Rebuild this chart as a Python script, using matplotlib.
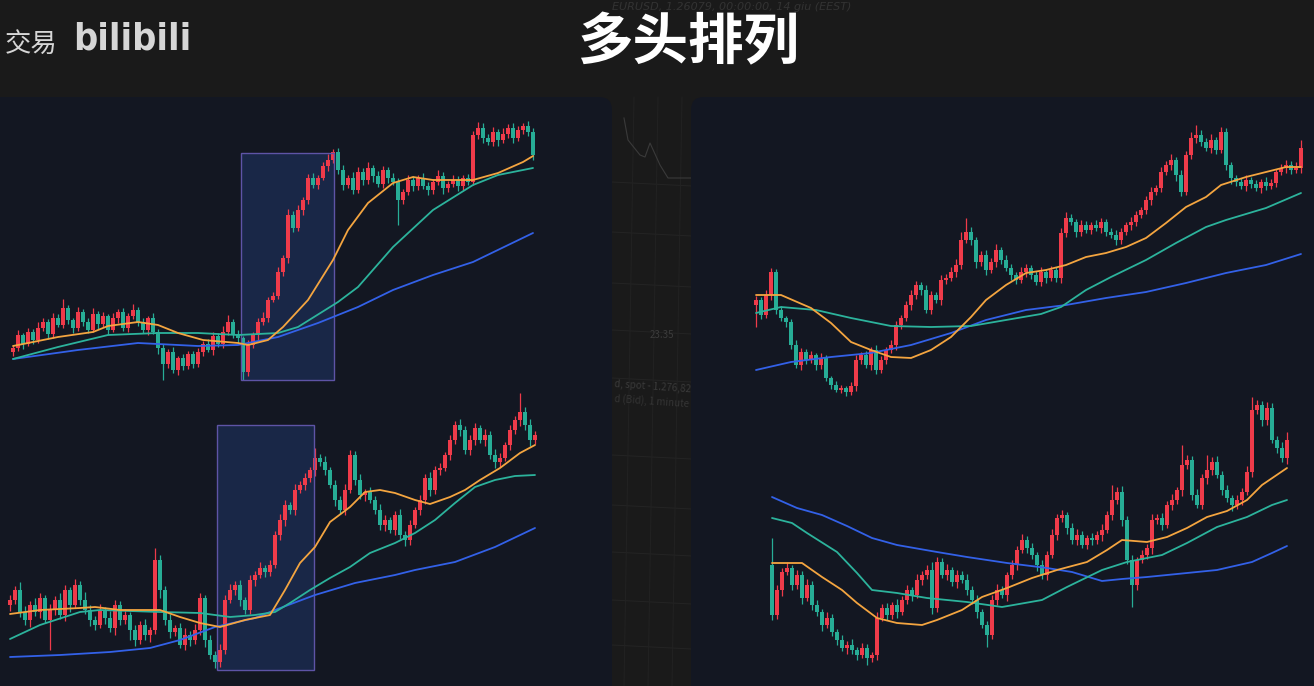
import matplotlib.pyplot as plt
from matplotlib.patches import FancyBboxPatch, Rectangle

plt.rcParams['font.family'] = ['Noto Sans CJK SC', 'DejaVu Sans']

W, H = 1314, 686
SLOT = 5  # pixels per candle

# ---- chart 1 (top left) ----
c1_open0 = 348
c1_close = [352, 365, 356, 368, 360, 372,
            378, 366, 382, 375, 392, 380,
            372, 388, 378, 370, 386, 376,
            384, 370, 382, 388, 372, 384, 390,
            378, 370, 382, 368, 352,
            336, 348, 330, 342, 334, 346, 336,
            348, 356, 350, 364, 356, 368,
            378, 366, 362, 328,
            355, 365, 378, 382, 400, 404,
            428, 442, 485,
            472, 490, 500, 522,
            515, 522, 534, 540, 548,
            530, 515, 522, 510,
            528, 520, 532, 524, 516, 530, 522, 518,
            500, 508, 520, 514,
            522, 514, 510, 518, 524, 512, 516, 520, 514, 522, 518,
            565,
            572, 562, 558, 568, 560, 566, 572, 562, 570, 574, 568, 545]
c1_up = [3, 5, 2, 4, 3, 6, 4, 3, 5, 4, 9, 3, 2, 5, 3, 4, 6, 3, 4, 2, 5, 3, 4, 3, 6,
         3, 4, 2, 5, 3, 4, 3, 5, 2, 4, 3, 3, 4, 3, 5, 4, 3, 6, 7, 3, 4, 2,
         5, 3, 4, 6, 3, 4, 5, 3, 6, 4, 5, 3, 4, 5, 3, 4, 6, 3, 4, 5, 3, 6,
         5, 4, 6, 3, 5, 4, 3, 5, 4, 3, 5, 4, 3, 5, 4, 3, 6, 4, 3, 5, 4, 3, 4,
         4, 6, 5, 4, 5, 3, 6, 4, 5, 4, 3, 5, 4]
c1_dn = [4, 3, 5, 2, 4, 3, 3, 5, 4, 2, 3, 4, 5, 3, 4, 3, 2, 5, 3, 4, 2, 5, 3, 4, 3,
         4, 3, 5, 2, 6, 16, 4, 3, 5, 4, 3, 4, 3, 4, 2, 5, 3, 4, 3, 4, 5, 8,
         4, 3, 5, 3, 4, 2, 3, 4, 5, 4, 3, 5, 4, 3, 4, 2, 5, 3, 4, 5, 3, 4,
         3, 5, 4, 6, 3, 4, 5, 3, 25, 4, 3, 5, 4, 3, 5, 4, 3, 6, 4, 3, 5, 4, 3,
         3, 4, 5, 3, 4, 6, 3, 4, 5, 3, 4, 4, 5]
c1_fast_x = [0, 9, 16, 19, 25, 29, 33, 38, 45, 47, 51, 54, 59, 64, 67, 71, 76, 80, 84, 92, 97, 102, 104]
c1_fast = [354, 363, 368, 374, 378, 375, 367, 360, 357, 355, 360, 373, 400, 440, 470, 497, 517, 523, 520, 520, 527, 538, 544]
c1_mid_x = [0, 9, 19, 29, 37, 45, 53, 57, 65, 69, 76, 84, 92, 97, 104]
c1_mid = [341, 353, 365, 367, 367, 365, 367, 373, 398, 413, 453, 490, 515, 525, 532]
c1_slow_x = [0, 13, 25, 37, 45, 53, 61, 69, 76, 84, 92, 104]
c1_slow = [341, 350, 357, 354, 355, 363, 377, 393, 410, 425, 438, 467]
c1_box = (45.6, 64.2, 320, 547)

# ---- chart 2 (bottom left) ----
c2_open0 = 95
c2_close = [100, 110, 88,
            80, 95, 88, 102, 80, 90,
            100, 85, 110, 95, 115, 100, 90, 80,
            75, 90, 82, 72, 95, 80, 85, 70,
            60, 75, 65, 70,
            140, 110,
            80, 68, 72, 55, 65,
            60, 70, 102, 60,
            45, 38, 50,
            100,
            110, 115, 100, 90,
            120, 125, 132, 128, 135,
            165, 180,
            195, 190, 210,
            215, 222, 230, 242,
            238, 230, 215,
            200, 190, 210,
            245,
            220, 205, 208, 200,
            190, 175, 180, 170, 185,
            165, 160, 175,
            190, 200, 222,
            210, 230, 232,
            245, 260, 275,
            270, 250, 260,
            272, 260, 265,
            245, 238, 242, 255,
            270, 280, 288,
            275, 260, 265]
c2_up = [5, 4, 8, 6, 4, 7, 5, 3, 6, 4, 7, 5, 3, 6, 4, 8, 5, 4, 6, 3, 7, 5, 4, 6, 3,
         5, 4, 6, 3, 12, 5, 4, 6, 3, 5, 7, 4, 6, 5, 3, 5, 4, 6, 5, 6, 4, 5, 3,
         5, 4, 6, 3, 5, 4, 6, 5, 3, 6, 4, 5, 3, 10, 4, 6, 3, 5, 4, 6, 5,
         4, 6, 3, 5, 4, 6, 5, 3, 4, 6, 4, 5, 3, 5, 4, 6, 4, 5, 3, 5, 4, 6, 4, 5,
         5, 3, 6, 4, 6, 5, 3, 5, 4, 19, 5, 6, 4]
c2_dn = [6, 4, 5, 5, 7, 4, 6, 3, 30, 5, 4, 6, 7, 3, 5, 4, 6, 5, 3, 6, 4, 7, 5, 4, 10,
         6, 4, 5, 7, 4, 8, 5, 6, 4, 3, 5, 6, 4, 5, 7, 4, 6, 5, 4, 3, 5, 6, 4,
         4, 6, 3, 5, 4, 3, 5, 6, 4, 5, 3, 5, 4, 6, 4, 5, 3, 6, 4, 5, 3,
         5, 4, 6, 3, 4, 5, 6, 3, 5, 4, 6, 5, 3, 5, 4, 6, 4, 5, 3, 5, 4, 6, 4, 5,
         5, 3, 6, 4, 6, 5, 3, 5, 4, 6, 5, 6, 4]
c2_fast_x = [0, 6, 14, 17, 22, 30, 34, 38, 42, 47, 52, 55, 58, 61, 64, 68, 71, 74, 77, 81, 84, 88, 91, 94, 98, 102, 105]
c2_fast = [86, 90, 92, 93, 90, 90, 83, 77, 73, 80, 85, 110, 137, 153, 178, 193, 208, 210, 207, 200, 196, 203, 210, 220, 232, 247, 255]
c2_mid_x = [0, 6, 14, 18, 30, 38, 44, 49, 53, 56, 60, 64, 68, 72, 77, 81, 85, 89, 93, 97, 101, 105]
c2_mid = [61, 75, 88, 90, 88, 87, 83, 85, 88, 97, 110, 122, 133, 147, 157, 167, 180, 197, 213, 220, 224, 225]
c2_slow_x = [0, 10, 20, 28, 34, 41, 49, 53, 61, 69, 77, 81, 89, 97, 105]
c2_slow = [43, 45, 48, 52, 60, 73, 82, 90, 105, 117, 125, 130, 138, 153, 172]
c2_box = (41.4, 60.8, 30, 275)

# ---- chart 3 (top right) ----
c3_open0 = 395
c3_close = [400, 385, 405, 428,
            390,
            382, 378,
            355, 335, 348,
            340, 345, 335, 342,
            322, 315, 310, 312, 308, 314,
            340, 345,
            335, 350, 330, 340,
            350, 355, 375,
            382, 395, 405,
            415, 410, 390,
            405, 400, 420,
            422, 428, 435,
            460, 468, 460,
            438, 445, 430,
            438, 450, 440, 432,
            425, 420, 428, 432, 425, 418,
            428, 422, 430, 422,
            467, 482,
            478, 468, 475, 470,
            475, 472, 478, 468, 465, 460,
            468, 475, 478, 485, 490,
            500, 508, 512,
            528, 535, 540,
            525, 508,
            545, 562, 565,
            558, 552, 560, 550, 568,
            535, 522,
            518, 514, 520, 516, 512, 518, 514, 517,
            528, 532, 535,
            530, 532, 552]
c3_up = [4, 3, 5, 4, 3, 4, 2, 3, 5, 4, 3, 4, 2, 5, 3, 2, 4, 3, 2, 4, 5, 3,
         4, 3, 5, 4, 3, 5, 4, 3, 4, 5, 4, 3, 5, 4, 3, 5, 4, 5, 6, 8, 14, 5,
         3, 4, 5, 4, 6, 3, 5, 4, 3, 5, 4, 3, 4, 5, 3, 4, 3, 5, 6, 4, 3, 5, 4,
         3, 5, 4, 3, 4, 5, 4, 3, 5, 4, 3, 4, 5, 3, 5, 4, 6, 3, 5, 4, 6, 10,
         5, 4, 6, 3, 5, 4, 3, 3, 4, 5, 3, 4, 3, 5, 4, 3, 4, 5, 4, 6, 8]
c3_dn = [22, 4, 3, 5, 4, 3, 5, 4, 3, 5, 4, 3, 5, 4, 3, 4, 2, 3, 4, 3, 5, 4,
         3, 5, 4, 3, 4, 3, 5, 4, 3, 5, 4, 5, 3, 4, 3, 5, 4, 3, 5, 4, 3, 5,
         6, 4, 5, 3, 5, 4, 3, 5, 4, 3, 5, 4, 3, 4, 5, 3, 4, 5, 4, 3, 5, 4, 3,
         4, 3, 5, 4, 3, 5, 4, 3, 5, 4, 3, 4, 5, 3, 4, 3, 5, 6, 4, 3, 4, 5,
         4, 3, 5, 4, 3, 5, 6, 4, 3, 5, 4, 3, 5, 4, 3, 4, 3, 5, 4, 3, 5]
c3_fast_x = [0, 5, 11, 15, 19, 23, 27, 31, 35, 39, 43, 46, 50, 54, 58, 62, 66, 70, 74, 78, 82, 86, 90, 93, 98, 102, 106, 109]
c3_fast = [405, 405, 392, 377, 358, 350, 343, 342, 350, 363, 383, 400, 415, 427, 430, 435, 443, 447, 453, 462, 477, 493, 503, 515, 523, 528, 533, 533]
c3_mid_x = [0, 5, 12, 19, 27, 35, 43, 50, 57, 61, 66, 71, 78, 84, 90, 94, 102, 109]
c3_mid = [387, 393, 390, 382, 374, 373, 374, 380, 386, 393, 410, 423, 440, 457, 473, 480, 492, 507]
c3_slow_x = [0, 7, 15, 23, 31, 39, 46, 54, 62, 70, 78, 86, 94, 102, 109]
c3_slow = [330, 338, 343, 347, 355, 367, 380, 390, 395, 402, 408, 417, 427, 435, 446]

# ---- chart 4 (bottom right) ----
c4_open0 = 135
c4_close = [85,
            110, 128, 132,
            115, 125, 102, 115,
            95, 88, 75, 82,
            68, 60, 52, 55, 50,
            45, 52, 42, 45,
            82,
            92, 85, 95, 88, 100,
            110, 105, 120, 125, 130,
            92, 138,
            125, 130, 118, 125, 120,
            110, 100, 88, 75, 65,
            100, 110, 105,
            125, 135, 150,
            160, 152, 145,
            135, 125, 145,
            165, 182, 185,
            172, 160, 165, 155, 162,
            160, 165, 170,
            185, 200, 208,
            180, 140, 115,
            140, 145, 152,
            180, 182, 175,
            195, 200, 210,
            235, 240, 205, 195,
            222, 230, 238,
            225, 210, 202,
            195, 200, 208,
            228, 290,
            295, 280, 292,
            260, 252, 242,
            260]
c4_up = [27, 5, 4, 6, 3, 5, 4, 6, 4, 5, 3, 6, 4, 3, 5, 4, 6, 3, 5, 4, 3, 6,
         4, 5, 3, 6, 4, 5, 3, 6, 4, 5, 8, 5, 4, 6, 3, 5, 4, 6, 4, 5, 3, 4,
         5, 6, 4, 3, 5, 4, 6, 4, 5, 3, 5, 4, 6, 4, 5, 3, 5, 6, 4, 3, 5, 4, 6,
         4, 15, 5, 6, 4, 5, 3, 5, 4, 6, 4, 5, 4, 6, 3, 20, 5, 4, 6, 4, 15, 5,
         6, 4, 5, 3, 5, 4, 6, 13, 5, 4, 6, 5, 4, 6, 8]
c4_dn = [5, 4, 6, 3, 5, 4, 6, 3, 5, 4, 6, 3, 4, 5, 3, 6, 4, 5, 3, 7, 4, 5,
         3, 5, 4, 6, 3, 4, 6, 3, 5, 4, 6, 4, 3, 5, 4, 6, 3, 5, 4, 6, 3, 12,
         4, 5, 3, 6, 4, 5, 3, 5, 4, 6, 4, 5, 3, 5, 4, 6, 4, 5, 3, 4, 5, 4, 6,
         3, 5, 4, 6, 4, 22, 5, 3, 4, 6, 4, 5, 3, 5, 4, 6, 4, 5, 3, 4, 6, 5,
         3, 5, 4, 6, 4, 5, 3, 5, 4, 6, 5, 3, 5, 4, 6]
c4_fast_x = [0, 6, 10, 14, 17, 21, 25, 30, 33, 38, 42, 47, 52, 57, 63, 67, 70, 75, 79, 83, 87, 91, 95, 98, 103]
c4_fast = [137, 137, 123, 110, 97, 82, 77, 75, 80, 90, 103, 112, 122, 130, 138, 150, 160, 158, 163, 172, 183, 189, 200, 215, 232]
c4_mid_x = [0, 4, 7, 13, 17, 20, 25, 31, 39, 46, 54, 59, 66, 71, 78, 83, 89, 95, 100, 103]
c4_mid = [182, 177, 167, 148, 127, 110, 107, 102, 98, 93, 100, 113, 130, 138, 145, 157, 173, 183, 195, 200]
c4_slow_x = [0, 5, 10, 15, 20, 25, 33, 39, 47, 55, 60, 66, 70, 75, 83, 89, 96, 100, 103]
c4_slow = [203, 192, 185, 174, 162, 155, 148, 143, 137, 132, 128, 119, 121, 123, 127, 130, 138, 147, 154]

UP = '#ef3b4a'
DOWN = '#27ad96'
FAST = '#f4a540'
MID = '#2cb39c'
SLOW = '#3361e8'
PANEL = '#131722'

fig = plt.figure(figsize=(W / 100, H / 100), dpi=100, facecolor='#1a1a1a')

# background layer in pixel units: panels, faint video backdrop, captions
bg = fig.add_axes([0, 0, 1, 1])
bg.set_xlim(0, W)
bg.set_ylim(H, 0)
bg.axis('off')

for y in [182, 232, 283, 330, 378, 455, 505, 552, 600, 645]:
    bg.plot([612, 692], [y, y + 4], color='#242424', lw=0.7, zorder=0.5)
for x in [628, 652, 676]:
    bg.plot([x + 6, x - 4], [97, 686], color='#222222', lw=0.7, zorder=0.5)
bg.plot([624, 628, 640, 645, 650, 660, 668, 692], [118, 140, 155, 157, 143, 165, 178, 178],
        color='#3a3a3a', lw=0.8, zorder=0.6)
bg.text(662, 338, '23.35', color='#3c3c3c', fontsize=7, ha='center', zorder=0.6)
bg.text(614, 392, 'd, spot - 1.276,82', color='#3a3a3a', fontsize=7, rotation=-4, zorder=0.6)
bg.text(614, 407, 'd (Bid), 1 minute', color='#343434', fontsize=7, rotation=-4, zorder=0.6)
bg.text(612, 7, 'EURUSD, 1.26079, 00:00:00, 14 giu (EEST)', color='#333333', fontsize=8,
        style='italic', va='center', family='DejaVu Sans', zorder=0.6)

bg.add_patch(FancyBboxPatch((-40, 97), 652, 660, boxstyle='round,pad=0,rounding_size=13',
                            fc=PANEL, ec='none', zorder=1))
bg.add_patch(FancyBboxPatch((691, 97), 680, 660, boxstyle='round,pad=0,rounding_size=13',
                            fc=PANEL, ec='none', zorder=1))

bg.text(688, 43, '多头排列', ha='center', va='center', fontsize=40, fontweight='bold',
        color='white', zorder=3)
bg.text(5, 44, '交易', ha='left', va='center', fontsize=19, color='#d6d6d6', zorder=3)
bg.text(73, 40, 'bilibili', ha='left', va='center', fontsize=27, fontweight='bold',
        fontstretch='condensed', family='DejaVu Sans', color='#d6d6d6', zorder=3)


def draw_chart(x_first, price_lo, price_hi, open0, close, up, dn, mas, box=None):
    n = len(close)
    # price scale is set so one unit is one pixel; 700 - price is the image row
    ax = fig.add_axes([(x_first - SLOT / 2) / W, (price_lo - 14) / H,
                       n * SLOT / W, (price_hi - price_lo) / H])
    ax.set_xlim(-0.5, n - 0.5)
    ax.set_ylim(price_lo, price_hi)
    ax.axis('off')

    if box is not None:
        x0, x1, p0, p1 = box
        ax.add_patch(Rectangle((x0, p0), x1 - x0, p1 - p0, fc='#1f3566', alpha=0.55,
                               ec='none', zorder=1))
        ax.add_patch(Rectangle((x0, p0), x1 - x0, p1 - p0, fc='none', ec='#5e54a6',
                               lw=1.0, zorder=4))

    opens = [open0] + close[:-1]
    idx, lows, highs, bottoms, heights, colors = [], [], [], [], [], []
    for i, (o, c, u, d) in enumerate(zip(opens, close, up, dn)):
        idx.append(i)
        highs.append(max(o, c) + u)
        lows.append(min(o, c) - d)
        bottoms.append(min(o, c))
        heights.append(max(abs(c - o), 1.2))
        colors.append(UP if c >= o else DOWN)
    ax.vlines(idx, lows, highs, colors=colors, lw=0.9, zorder=2)
    ax.bar(idx, heights, bottom=bottoms, width=0.62, color=colors, lw=0, zorder=3)

    for xs, vals, col in mas:
        ax.plot(xs, vals, color=col, lw=1.3, zorder=5, solid_capstyle='round')
    return ax


draw_chart(13, 310, 590, c1_open0, c1_close, c1_up, c1_dn,
           [(c1_slow_x, c1_slow, SLOW), (c1_mid_x, c1_mid, MID), (c1_fast_x, c1_fast, FAST)],
           box=c1_box)
draw_chart(10, 20, 312, c2_open0, c2_close, c2_up, c2_dn,
           [(c2_slow_x, c2_slow, SLOW), (c2_mid_x, c2_mid, MID), (c2_fast_x, c2_fast, FAST)],
           box=c2_box)
draw_chart(756, 295, 590, c3_open0, c3_close, c3_up, c3_dn,
           [(c3_slow_x, c3_slow, SLOW), (c3_mid_x, c3_mid, MID), (c3_fast_x, c3_fast, FAST)])
draw_chart(772, 25, 308, c4_open0, c4_close, c4_up, c4_dn,
           [(c4_slow_x, c4_slow, SLOW), (c4_mid_x, c4_mid, MID), (c4_fast_x, c4_fast, FAST)])

fig.savefig('out.png', dpi=100, facecolor=fig.get_facecolor())
